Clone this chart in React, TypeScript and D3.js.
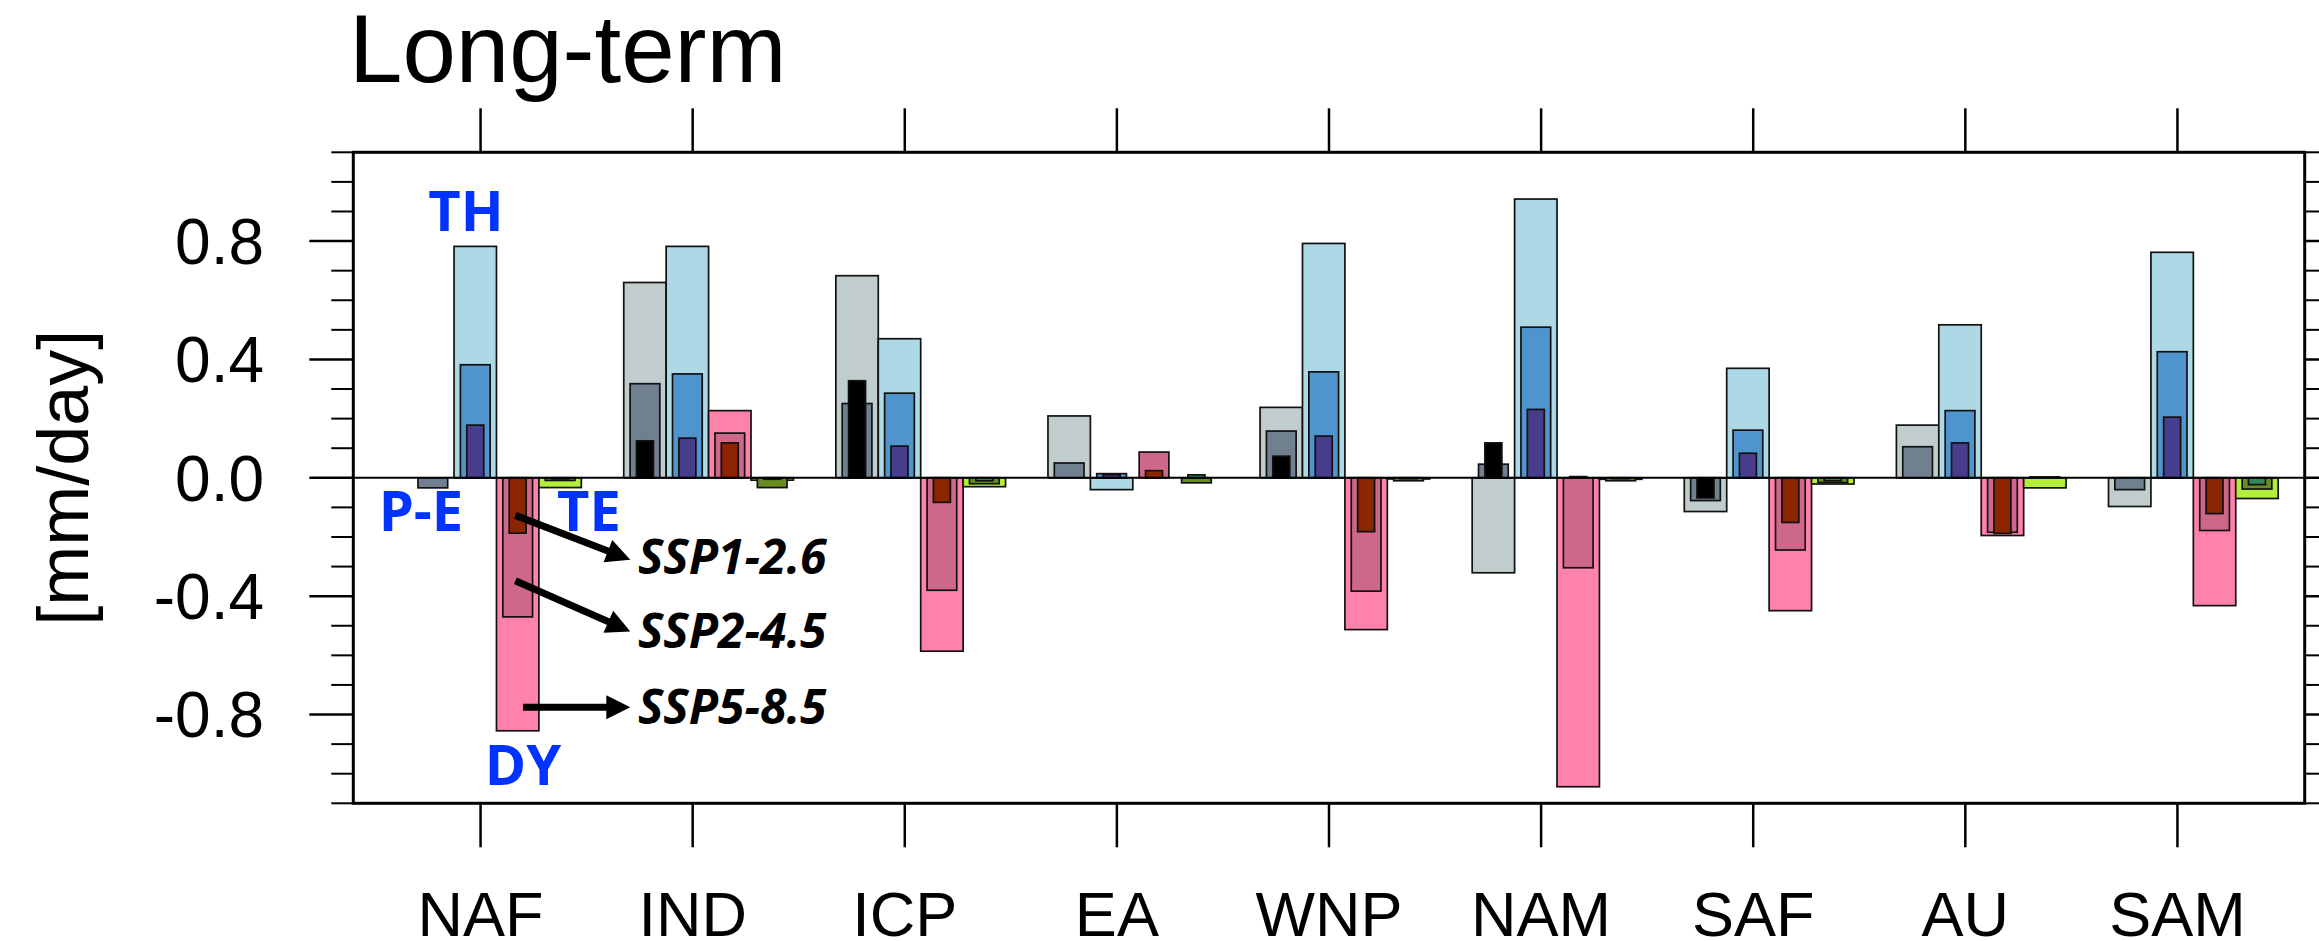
import React from "react";
import * as d3 from "d3";

// ---------- data ----------
const categories = ["NAF", "IND", "ICP", "EA", "WNP", "NAM", "SAF", "AU", "SAM"];
const variables = ["P-E", "TH", "DY", "TE"];
const scenarios = ["SSP5-8.5", "SSP2-4.5", "SSP1-2.6"];

// P-E
const peSSP585 = [0.0, 0.66, 0.683, 0.209, 0.238, -0.321, -0.114, 0.178, -0.097];
const peSSP245 = [-0.034, 0.318, 0.251, 0.05, 0.158, 0.046, -0.077, 0.105, -0.04];
const peSSP126 = [0.0, 0.125, 0.328, 0.0, 0.073, 0.118, -0.068, 0.0, 0.0];
// TH (thermodynamic)
const thSSP585 = [0.782, 0.782, 0.47, -0.04, 0.792, 0.942, 0.37, 0.517, 0.762];
const thSSP245 = [0.382, 0.351, 0.286, 0.014, 0.358, 0.509, 0.161, 0.227, 0.426];
const thSSP126 = [0.178, 0.134, 0.107, 0.01, 0.141, 0.231, 0.083, 0.118, 0.205];
// DY (dynamic)
const dySSP585 = [-0.855, 0.227, -0.586, 0.0, -0.513, -1.044, -0.449, -0.195, -0.432];
const dySSP245 = [-0.47, 0.151, -0.38, 0.087, -0.383, -0.304, -0.244, -0.184, -0.178];
const dySSP126 = [-0.187, 0.118, -0.083, 0.024, -0.182, 0.004, -0.151, -0.188, -0.121];
// TE (transient eddy)
const teSSP585 = [-0.033, -0.008, -0.03, 0.0, -0.004, -0.005, -0.021, -0.034, -0.07];
const teSSP245 = [-0.009, -0.033, -0.02, -0.017, -0.01, -0.01, -0.016, 0.003, -0.038];
const teSSP126 = [-0.004, -0.005, -0.01, 0.01, -0.003, -0.003, -0.01, 0.0, -0.023];

const majorTicks = [-0.8, -0.4, 0.0, 0.4, 0.8];
const majorTickLabels = ["-0.8", "-0.4", "0.0", "0.4", "0.8"];

const seriesValues: number[][][] = [
  [peSSP585, peSSP245, peSSP126],
  [thSSP585, thSSP245, thSSP126],
  [dySSP585, dySSP245, dySSP126],
  [teSSP585, teSSP245, teSSP126],
];

// ---------- styling ----------
const barColors = [
  ["#C1CDCD", "#708090", "#000000"],
  ["#ADD8E6", "#4F94CD", "#483D8B"],
  ["#FF82AB", "#CD6889", "#8B2500"],
  ["#B3EE3A", "#698B22", "#2E8B57"],
];
const varOffsets = [-0.225, -0.025, 0.175, 0.375];
const scenarioWidths = [0.2, 0.14, 0.08];

// annotation anchors (data coordinates)
const varLabels = [
  { text: "TH", x: 0.931, y: 0.835 },
  { text: "P-E", x: 0.719, y: -0.18 },
  { text: "TE", x: 1.511, y: -0.18 },
  { text: "DY", x: 1.2, y: -1.039 },
];
const arrows = [
  { x0: 1.164, y0: -0.127, x1: 1.706, y1: -0.277, label: "SSP1-2.6", ly: -0.326 },
  { x0: 1.164, y0: -0.348, x1: 1.706, y1: -0.519, label: "SSP2-4.5", ly: -0.576 },
  { x0: 1.2, y0: -0.775, x1: 1.706, y1: -0.775, label: "SSP5-8.5", ly: -0.833 },
];
const arrowLabelX = 1.742;

export default function App() {
  const W = 2319;
  const H = 941;
  const left = 353.3, right = 2304.7, top = 152.3, bottom = 803.3;
  const x = d3.scaleLinear().domain([0.4, 9.6]).range([left, right]);
  const y = d3.scaleLinear().domain([-1.1, 1.1]).range([bottom, top]);
  const unitW = x(1) - x(0);

  const minorTicks = d3
    .range(-11, 12)
    .map((v) => v / 10)
    .filter((v) => !majorTicks.some((m) => Math.abs(m - v) < 1e-6));

  const font = "'Liberation Sans', Arial, Helvetica, sans-serif";
  const labelFont = "'Open Sans', 'Noto Sans', sans-serif";

  const bars: React.ReactNode[] = [];
  variables.forEach((v, j) => {
    categories.forEach((c, i) => {
      scenarios.forEach((s, k) => {
        const val = seriesValues[j][k][i];
        const cx = x(i + 1 + varOffsets[j]);
        const w = scenarioWidths[k] * unitW;
        const y0 = y(0), y1 = y(val);
        bars.push(
          <rect
            key={`${v}-${c}-${s}`}
            x={cx - w / 2}
            y={Math.min(y0, y1)}
            width={w}
            height={Math.abs(y1 - y0)}
            fill={barColors[j][k]}
            stroke="#111"
            strokeWidth={1.7}
          />
        );
      });
    });
  });

  const arrowEls = arrows.map((a, idx) => {
    const X0 = x(a.x0), Y0 = y(a.y0), X1 = x(a.x1), Y1 = y(a.y1);
    const dx = X1 - X0, dy = Y1 - Y0;
    const len = Math.hypot(dx, dy);
    const ux = dx / len, uy = dy / len;
    const headL = 24, headW = 12;
    const bx = X1 - ux * headL, by = Y1 - uy * headL;
    const px = -uy, py = ux;
    return (
      <g key={`arrow-${idx}`}>
        <line x1={X0} y1={Y0} x2={bx + ux * 2} y2={by + uy * 2} stroke="#000" strokeWidth={7} />
        <polygon
          points={`${X1},${Y1} ${bx + px * headW},${by + py * headW} ${bx - px * headW},${by - py * headW}`}
          fill="#000"
        />
        <text
          x={x(arrowLabelX)}
          y={y(a.ly)}
          fontFamily={labelFont}
          fontWeight={700}
          fontStyle="italic"
          fontSize={48}
          fill="#000"
        >
          {a.label}
        </text>
      </g>
    );
  });

  return (
    <div>
      <style>{`body{margin:0;}`}</style>
      <svg width={W} height={H} viewBox={`0 0 ${W} ${H}`} style={{ display: "block" }}>
        <rect x={0} y={0} width={W} height={H} fill="#fff" />

        {/* title */}
        <text x={349} y={82} fontFamily={font} fontSize={96} fill="#000">
          Long-term
        </text>

        {/* y axis title */}
        <text
          transform={`translate(88, ${(top + bottom) / 2}) rotate(-90)`}
          textAnchor="middle"
          fontFamily={font}
          fontSize={72}
          fill="#000"
        >
          [mm/day]
        </text>

        {/* bars */}
        {bars}

        {/* zero line */}
        <line x1={left} x2={right} y1={y(0)} y2={y(0)} stroke="#000" strokeWidth={2} />

        {/* minor ticks left & right */}
        {minorTicks.map((t) => (
          <g key={`mt-${t}`}>
            <line x1={left - 22} x2={left} y1={y(t)} y2={y(t)} stroke="#000" strokeWidth={2} />
            <line x1={right} x2={right + 22} y1={y(t)} y2={y(t)} stroke="#000" strokeWidth={2} />
          </g>
        ))}
        {/* major ticks */}
        {majorTicks.map((t, i) => (
          <g key={`Mt-${t}`}>
            <line x1={left - 44} x2={left} y1={y(t)} y2={y(t)} stroke="#000" strokeWidth={2.5} />
            <line x1={right} x2={right + 44} y1={y(t)} y2={y(t)} stroke="#000" strokeWidth={2.5} />
            <text
              x={264}
              y={y(t)}
              dy="0.358em"
              textAnchor="end"
              fontFamily={font}
              fontSize={64}
              fill="#000"
            >
              {majorTickLabels[i]}
            </text>
          </g>
        ))}

        {/* category ticks top & bottom */}
        {categories.map((c, i) => (
          <g key={`ct-${c}`}>
            <line x1={x(i + 1)} x2={x(i + 1)} y1={top - 44} y2={top} stroke="#000" strokeWidth={2.5} />
            <line x1={x(i + 1)} x2={x(i + 1)} y1={bottom} y2={bottom + 44} stroke="#000" strokeWidth={2.5} />
            <text
              x={x(i + 1)}
              y={936}
              textAnchor="middle"
              fontFamily={font}
              fontSize={63}
              fill="#000"
            >
              {c}
            </text>
          </g>
        ))}

        {/* frame */}
        <rect
          x={left}
          y={top}
          width={right - left}
          height={bottom - top}
          fill="none"
          stroke="#000"
          strokeWidth={3}
        />

        {/* variable labels */}
        {varLabels.map((l) => (
          <text
            key={l.text}
            x={x(l.x)}
            y={y(l.y)}
            textAnchor="middle"
            fontFamily={labelFont}
            fontWeight={700}
            fontSize={56}
            fill="#0033ff"
          >
            {l.text}
          </text>
        ))}

        {/* scenario arrows */}
        {arrowEls}
      </svg>
    </div>
  );
}
